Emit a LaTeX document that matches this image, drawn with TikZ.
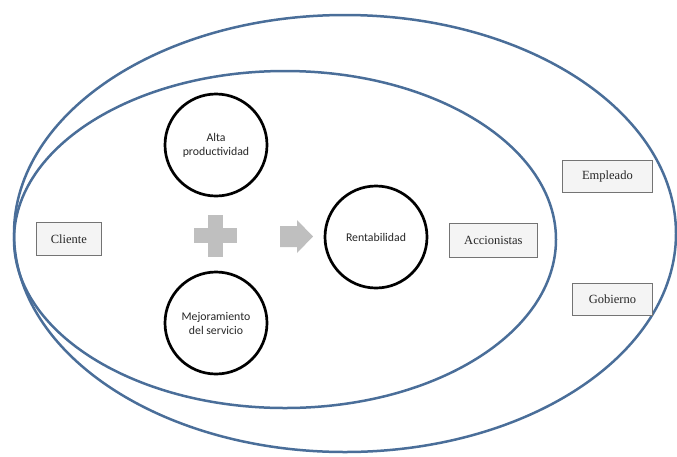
\documentclass[tikz,border=0pt]{standalone}
\usepackage{fontspec}
\setmainfont{Liberation Serif}
\newfontfamily\circfont{Carlito}
\usetikzlibrary{patterns.meta}
\definecolor{ellblue}{HTML}{4A6E99}
\definecolor{shapegray}{HTML}{BFBFBF}
\tikzset{
  ell/.style={draw=ellblue, line width=2.5pt},
  circ/.style={circle, draw=black, line width=2.7pt, minimum size=102pt, inner sep=0pt, align=center, font=\circfont\fontsize{11.8}{14}\selectfont, text=black!85},
  tagbox/.style={draw=black!55, line width=0.8pt, fill=white, postaction={pattern={Dots[distance=2pt, radius=0.4pt]}, pattern color=black!50}, font=\fontsize{12.5}{14}\selectfont, text=black!85, inner sep=0pt, anchor=north west},
  graysh/.style={fill=shapegray, draw=none}
}
\begin{document}
\begin{tikzpicture}[x=1pt,y=-1pt]
\useasboundingbox (0,0) rectangle (677,456);
% ellipses
\draw[ell] (345,233.5) ellipse [x radius=331pt, y radius=218.5pt];
\draw[ell] (285,239.5) ellipse [x radius=271pt, y radius=168.5pt];
% circles
\node[circ] (alta) at (216,145) {Alta\\productividad};
\node[circ] (mejora) at (216,323) {Mejoramiento\\del servicio};
\node[circ] (rent) at (376,237) {Rentabilidad};
% plus sign
\fill[graysh] (208,215) rectangle (223,257);
\fill[graysh] (194,228) rectangle (237,243);
% arrow
\fill[graysh] (280,226) -- (297,226) -- (297,220) -- (313,236.5) -- (297,253) -- (297,247) -- (280,247) -- cycle;
% boxes
\node[tagbox, minimum width=65pt, minimum height=33pt] (cliente) at (36,222) {Cliente};
\node[tagbox, minimum width=88pt, minimum height=34pt] (accion) at (449,223) {Accionistas};
\node[tagbox, minimum width=90pt, minimum height=32pt] (empl) at (562,160) {Empleado};
\node[tagbox, minimum width=80pt, minimum height=32pt] (gob) at (572,283) {Gobierno};
\end{tikzpicture}
\end{document}
